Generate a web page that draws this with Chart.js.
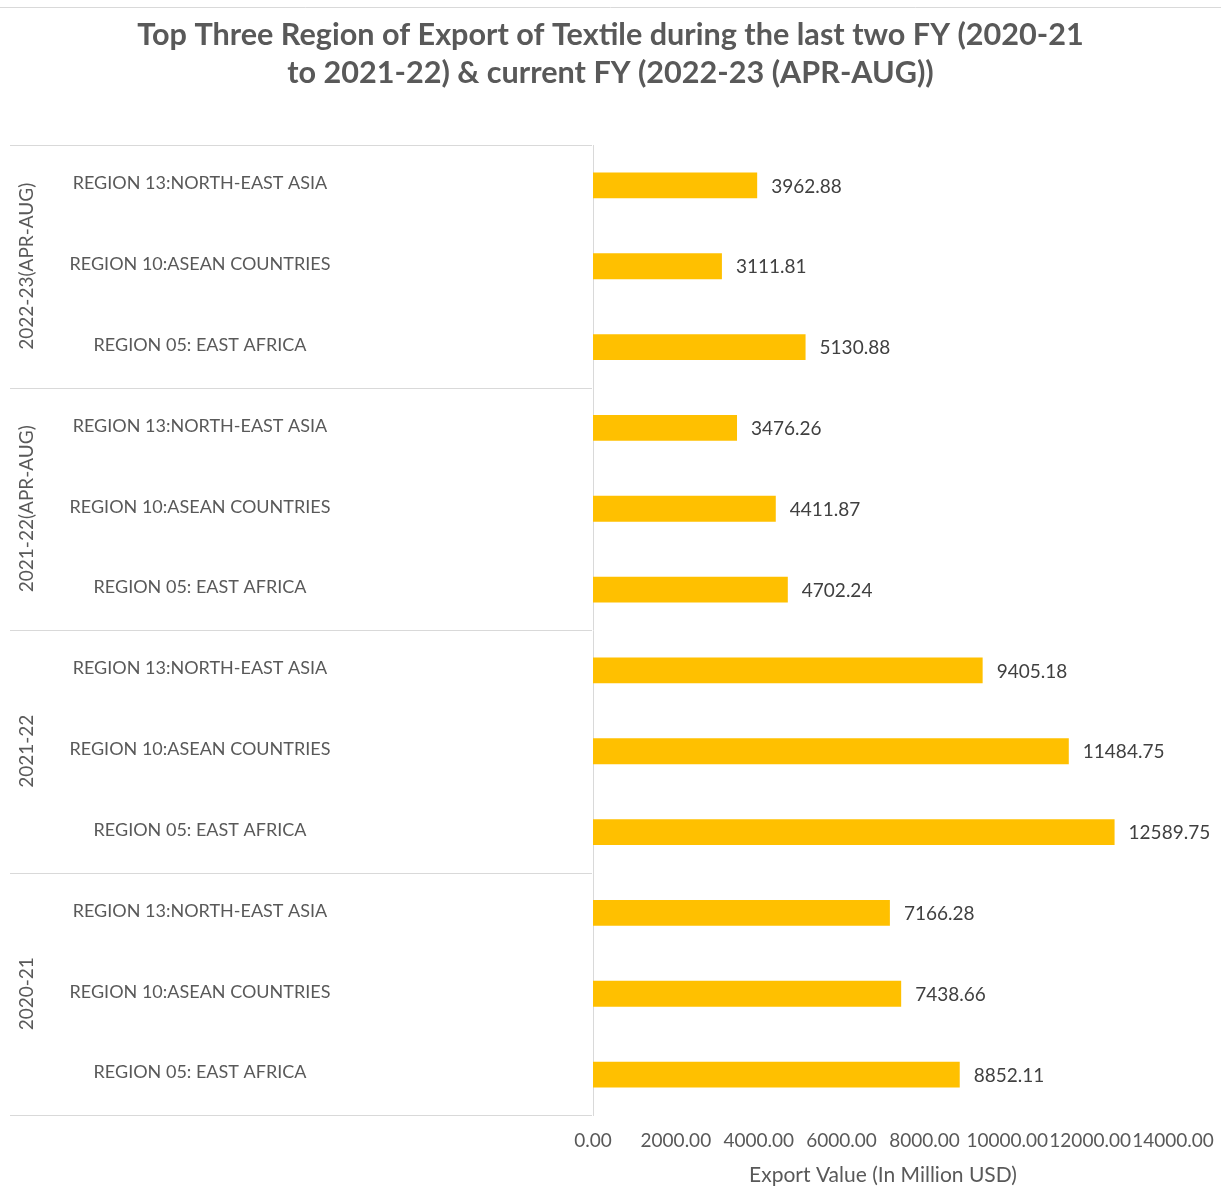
<!DOCTYPE html>
<html>
<head>
<meta charset="utf-8">
<title>Top Three Region of Export of Textile</title>
<script src="https://cdn.jsdelivr.net/npm/chart.js@4.4.0/dist/chart.umd.min.js"></script>
<style>
  html, body { margin: 0; padding: 0; background: #fff; }
  #wrap { position: relative; width: 1221px; height: 1190px; }
</style>
</head>
<body>
<div id="wrap"><canvas id="grafico"></canvas></div>
<script>
// datos (de arriba hacia abajo, como en la imagen)
const fiscalYears = ['2022-23(APR-AUG)', '2021-22(APR-AUG)', '2021-22', '2020-21'];
const regions = ['REGION 13:NORTH-EAST ASIA', 'REGION 10:ASEAN COUNTRIES', 'REGION 05: EAST AFRICA'];
const export2022_23 = [3962.88, 3111.81, 5130.88];
const export2021_22Apr = [3476.26, 4411.87, 4702.24];
const export2021_22 = [9405.18, 11484.75, 12589.75];
const export2020_21 = [7166.28, 7438.66, 8852.11];
const xTicks = [0, 2000, 4000, 6000, 8000, 10000, 12000, 14000];

const valuesByYear = [export2022_23, export2021_22Apr, export2021_22, export2020_21];
const labels = [];
const values = [];
fiscalYears.forEach((fy, i) => {
  regions.forEach((r, j) => {
    labels.push(r);
    values.push(valuesByYear[i][j]);
  });
});

const GRIS = '#595959';
const LINEA = '#d9d9d9';
const FUENTE = 'Lato, "Open Sans", sans-serif';

// lineas de grupos, etiquetas de region y del año fiscal
const groupPlugin = {
  id: 'groupPlugin',
  beforeDraw(chart) {
    const ctx = chart.ctx;
    ctx.save();
    ctx.strokeStyle = LINEA;
    ctx.lineWidth = 1;
    ctx.beginPath();
    ctx.moveTo(0, 7.5);
    ctx.lineTo(chart.width, 7.5);
    ctx.stroke();
    ctx.restore();
  },
  afterDraw(chart) {
    const ctx = chart.ctx;
    const y = chart.scales.y;
    const half = (y.getPixelForValue(1) - y.getPixelForValue(0)) / 2;
    const n = regions.length;
    ctx.save();
    ctx.strokeStyle = LINEA;
    ctx.lineWidth = 1;
    for (let g = 0; g <= fiscalYears.length; g++) {
      let py;
      if (g === fiscalYears.length) py = y.getPixelForValue(labels.length - 1) + half;
      else py = y.getPixelForValue(g * n) - half;
      py = Math.round(py) + 0.5;
      ctx.beginPath();
      ctx.moveTo(10, py);
      ctx.lineTo(chart.chartArea.left - 1, py);
      ctx.stroke();
    }
    ctx.fillStyle = GRIS;
    ctx.textAlign = 'center';
    ctx.textBaseline = 'middle';
    // etiquetas de region
    ctx.font = '18px ' + FUENTE;
    labels.forEach((lab, i) => {
      ctx.fillText(lab, 200, y.getPixelForValue(i) - 2);
    });
    // año fiscal rotado
    ctx.font = '19px ' + FUENTE;
    fiscalYears.forEach((fy, g) => {
      const top = y.getPixelForValue(g * n) - half;
      const bottom = y.getPixelForValue(g * n + n - 1) + half;
      ctx.save();
      ctx.translate(27, (top + bottom) / 2);
      ctx.rotate(-Math.PI / 2);
      ctx.fillText(fy, 0, 0);
      ctx.restore();
    });
    ctx.restore();
  }
};

// etiquetas de valor al final de cada barra
const valueLabels = {
  id: 'valueLabels',
  afterDatasetsDraw(chart) {
    const ctx = chart.ctx;
    const meta = chart.getDatasetMeta(0);
    ctx.save();
    ctx.fillStyle = '#404040';
    ctx.font = '19px ' + FUENTE;
    ctx.textAlign = 'left';
    ctx.textBaseline = 'middle';
    meta.data.forEach((bar, i) => {
      ctx.fillText(values[i].toFixed(2), bar.x + 14, bar.y + 1);
    });
    ctx.restore();
  }
};

const ctx = document.getElementById('grafico').getContext('2d');
const grafico = new Chart(ctx, {
  type: 'bar',
  data: {
    labels: labels,
    datasets: [{
      data: values,
      backgroundColor: '#FFC000',
      borderWidth: 0,
      categoryPercentage: 1,
      barPercentage: 0.32
    }]
  },
  options: {
    indexAxis: 'y',
    responsive: true,
    maintainAspectRatio: false,
    animation: false,
    layout: { padding: 0 },
    plugins: {
      legend: { display: false },
      tooltip: { enabled: false },
      title: {
        display: true,
        text: ['Top Three Region of Export of Textile during the last two FY (2020-21', 'to 2021-22) & current FY (2022-23 (APR-AUG))'],
        color: GRIS,
        font: { family: FUENTE, size: 30.6, weight: 'bold', lineHeight: '38px' },
        padding: { top: 16, bottom: 53 }
      }
    },
    scales: {
      x: {
        min: 0,
        max: 14000,
        afterBuildTicks(scale) {
          scale.ticks = xTicks.map(v => ({ value: v }));
        },
        grid: { display: false, drawTicks: false },
        border: { display: false },
        ticks: {
          color: GRIS,
          font: { family: FUENTE, size: 19 },
          padding: 14,
          maxRotation: 0,
          autoSkip: false,
          callback: (v) => Number(v).toFixed(2)
        },
        title: {
          display: true,
          text: 'Export Value (In Million USD)',
          color: GRIS,
          font: { family: FUENTE, size: 21 },
          padding: { top: 0, bottom: 2 }
        },
        afterFit(scale) {
          scale.height = 75;
          scale.paddingLeft = 0;
          scale.paddingRight = 48;
        }
      },
      y: {
        grid: { display: false, drawTicks: false },
        border: { display: true, color: LINEA, width: 1 },
        ticks: { display: false, autoSkip: false },
        afterFit(scale) { scale.width = 593; }
      }
    }
  },
  plugins: [groupPlugin, valueLabels]
});
</script>
</body>
</html>
